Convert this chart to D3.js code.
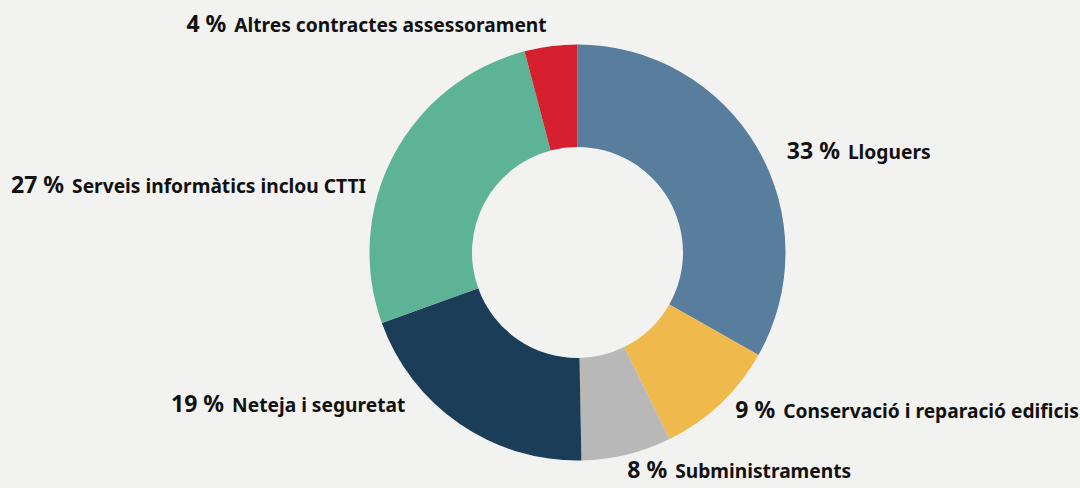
<!DOCTYPE html>
<html>
<head>
<meta charset="utf-8">
<script src="https://cdn.jsdelivr.net/npm/d3@7"></script>
<style>
  body { margin: 0; background: #f2f2f0; }
  svg { display: block; }
  text { font-family: "Noto Sans", sans-serif; font-weight: 700; fill: #111; }
</style>
</head>
<body>
<svg id="chart" width="1080" height="488"></svg>
<script>
// categories, in drawing order (clockwise from 12 o'clock)
var categories = ["Lloguers", "Conservació i reparació edificis", "Subministraments",
	"Neteja i seguretat", "Serveis informàtics inclou CTTI", "Altres contractes assessorament"];
// share of each slice
var values = [33.2, 9.5, 7.0, 19.8, 26.4, 4.1];
// percentages as printed on the chart
var pctLabels = ["33 %", "9 %", "8 %", "19 %", "27 %", "4 %"];
var colors = ["#587d9d", "#efb94b", "#b8b8b8", "#1b3d57", "#5db396", "#d61f2f"];

var W = 1080, H = 488;
var cx = 577.5, cy = 252.5;
var outerR = 208, innerR = 105.5, labelR = 240;

// nudges from label-arc centroid to where the label sits
var labelNudge = [[2, 27], [-7, -9], [-7, -8], [-36, -38], [1, 52], [0, 17.5]];

var svg = d3.select("#chart");
var g = svg.append("g").attr("transform", "translate(" + cx + "," + cy + ")");

var pie = d3.pie().sort(null).value(function(d) { return d; });
var arcs = pie(values);

var arc = d3.arc().innerRadius(innerR).outerRadius(outerR);
var labelArc = d3.arc().innerRadius(labelR).outerRadius(labelR);

g.selectAll("path.slice")
	.data(arcs)
	.enter()
	.append("path")
	.attr("class", "slice")
	.attr("d", arc)
	.attr("fill", function(d, i) { return colors[i]; });

var labels = g.selectAll("text.label")
	.data(arcs)
	.enter()
	.append("text")
	.attr("class", "label")
	.attr("transform", function(d, i) {
		var c = labelArc.centroid(d);
		return "translate(" + (c[0] + labelNudge[i][0]) + "," + (c[1] + labelNudge[i][1]) + ")";
	})
	.attr("text-anchor", function(d) {
		var mid = (d.startAngle + d.endAngle) / 2;
		return mid > Math.PI * 1.1 ? "end" : "start";
	});

labels.append("tspan")
	.style("font-size", "23px")
	.text(function(d, i) { return pctLabels[i]; });

labels.append("tspan")
	.attr("dx", 8)
	.style("font-size", "19.2px")
	.text(function(d, i) { return categories[i]; });
</script>
</body>
</html>
